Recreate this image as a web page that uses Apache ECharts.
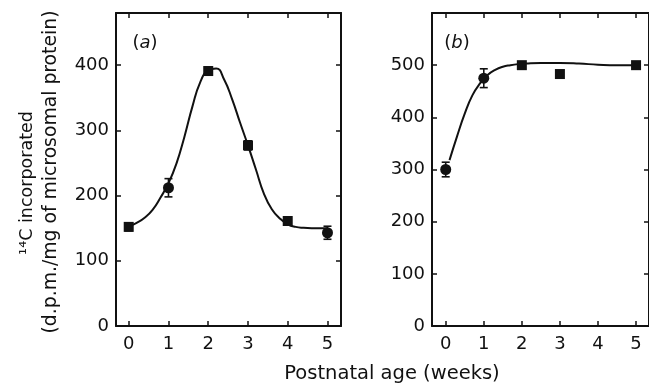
<!DOCTYPE html>
<html>
<head>
<meta charset="utf-8">
<script src="https://cdn.jsdelivr.net/npm/echarts@6/dist/echarts.min.js"></script>
<style>
  html, body {margin: 0; padding: 0; background: #fff;}
  #chart {width: 649px; height: 383px;}
</style>
</head>
<body>
<div id="chart"></div>
<script>
// tick labels
const weekTicks = [0, 1, 2, 3, 4, 5]
const yTicksA = [0, 100, 200, 300, 400]
const yTicksB = [0, 100, 200, 300, 400, 500]

// panel (a) measured points
const weeksA = [0, 1, 2, 3, 4, 5]
const valuesA = [152, 212, 391, 277, 161, 143]
const errA = [6, 14, 6, 7, 5, 10]
const shapesA = ['rect', 'circle', 'rect', 'rect', 'rect', 'circle']

// panel (a) fitted curve
const curveXA = [0.05, 0.2, 0.4, 0.6, 0.8, 1.0, 1.2, 1.4, 1.6, 1.8, 2.0, 2.2, 2.4, 2.6, 2.8, 3.0, 3.2, 3.4, 3.6, 3.8, 4.0, 4.2, 4.4, 4.6, 4.8, 5.0]
const curveYA = [154, 158, 166, 178, 197, 219, 249, 290, 336, 374, 392, 395, 378, 348, 312, 277, 240, 203, 179, 165, 156, 152, 150.5, 150, 150, 150]

// panel (b) measured points
const weeksB = [0, 1, 2, 3, 5]
const valuesB = [300, 475, 500, 483, 500]
const errB = [14, 18, 6, 5, 5]
const shapesB = ['circle', 'circle', 'rect', 'rect', 'rect']

// panel (b) fitted curve
const curveXB = [0.1, 0.3, 0.5, 0.7, 0.9, 1.1, 1.3, 1.5, 1.7, 1.9, 2.1, 2.5, 3.0, 3.5, 4.0, 4.5, 5.0]
const curveYB = [318, 364, 407, 442, 465, 481, 491, 497, 500, 502, 503, 504, 504, 503, 501, 500, 500]

const font = 'DejaVu Sans'
const black = '#111'

const zip = (xs, ys) => xs.map((x, i) => [x, ys[i]])

const xAxes = (grid, min, max) => ([
    {
        gridIndex: grid, type: 'value', min: min, max: max, position: 'bottom',
        splitLine: {show: false},
        axisLine: {onZero: false, lineStyle: {color: black, width: 2}},
        axisTick: {inside: true, length: 5, customValues: weekTicks, lineStyle: {width: 1.5}},
        axisLabel: {customValues: weekTicks, fontSize: 18, fontFamily: font, color: black, margin: 9}
    },
    {
        gridIndex: grid, type: 'value', min: min, max: max, position: 'top',
        splitLine: {show: false},
        axisLine: {onZero: false, lineStyle: {color: black, width: 2}},
        axisTick: {inside: true, length: 5, customValues: weekTicks, lineStyle: {width: 1.5}},
        axisLabel: {show: false}
    }
])

const yAxes = (grid, max, ticks) => ([
    {
        gridIndex: grid, type: 'value', min: 0, max: max, position: 'left',
        splitLine: {show: false},
        axisLine: {show: true, onZero: false, lineStyle: {color: black, width: 2}},
        axisTick: {show: true, inside: true, length: 5, customValues: ticks, lineStyle: {width: 1.5}},
        axisLabel: {customValues: ticks, fontSize: 18, fontFamily: font, color: black, margin: 7}
    },
    {
        gridIndex: grid, type: 'value', min: 0, max: max, position: 'right',
        splitLine: {show: false},
        axisLine: {show: true, onZero: false, lineStyle: {color: black, width: 2}},
        axisTick: {show: true, inside: true, length: 5, customValues: ticks, lineStyle: {width: 1.5}},
        axisLabel: {show: false}
    }
])

const errorBars = (xs, ys, es) => xs.map((x, i) => [x, ys[i], es[i]])

const renderError = (params, api) => {
    const x = api.value(0)
    const y = api.value(1)
    const e = api.value(2)
    const top = api.coord([x, y + e])
    const bot = api.coord([x, y - e])
    const w = 4
    const style = {stroke: black, lineWidth: 1.6}
    return {
        type: 'group',
        children: [
            {type: 'line', shape: {x1: top[0], y1: top[1], x2: bot[0], y2: bot[1]}, style: style},
            {type: 'line', shape: {x1: top[0] - w, y1: top[1], x2: top[0] + w, y2: top[1]}, style: style},
            {type: 'line', shape: {x1: bot[0] - w, y1: bot[1], x2: bot[0] + w, y2: bot[1]}, style: style}
        ]
    }
}

const points = (xs, ys, shapes) => xs.map((x, i) => ({
    value: [x, ys[i]],
    symbol: shapes[i],
    symbolSize: shapes[i] === 'rect' ? 10 : 11
}))

const myChart = echarts.init(document.getElementById('chart'))
myChart.setOption({
    animation: false,
    grid: [
        {left: 116, top: 13, width: 225, height: 313},
        {left: 432, top: 13, width: 227, height: 313}
    ],
    xAxis: [...xAxes(0, -0.32, 5.34), ...xAxes(1, -0.36, 5.34)],
    yAxis: [...yAxes(0, 480, yTicksA), ...yAxes(1, 600, yTicksB)],
    series: [
        {
            type: 'line', xAxisIndex: 0, yAxisIndex: 0, data: zip(curveXA, curveYA),
            smooth: 0.5, showSymbol: false, lineStyle: {color: black, width: 2}
        },
        {
            type: 'custom', xAxisIndex: 0, yAxisIndex: 0, renderItem: renderError,
            data: errorBars(weeksA, valuesA, errA), z: 3
        },
        {
            type: 'scatter', xAxisIndex: 0, yAxisIndex: 0, data: points(weeksA, valuesA, shapesA),
            itemStyle: {color: black, opacity: 1}, z: 4
        },
        {
            type: 'line', xAxisIndex: 2, yAxisIndex: 2, data: zip(curveXB, curveYB),
            smooth: 0.5, showSymbol: false, lineStyle: {color: black, width: 2}
        },
        {
            type: 'custom', xAxisIndex: 2, yAxisIndex: 2, renderItem: renderError,
            data: errorBars(weeksB, valuesB, errB), z: 3
        },
        {
            type: 'scatter', xAxisIndex: 2, yAxisIndex: 2, data: points(weeksB, valuesB, shapesB),
            itemStyle: {color: black, opacity: 1}, z: 4
        }
    ],
    graphic: [
        {
            type: 'text', x: 145, y: 43,
            style: {
                text: '({i|a})', fontSize: 18, fontFamily: font, fill: black,
                align: 'center', verticalAlign: 'middle',
                rich: {i: {fontStyle: 'italic', fontSize: 18, fontFamily: font}}
            }
        },
        {
            type: 'text', x: 457, y: 43,
            style: {
                text: '({i|b})', fontSize: 18, fontFamily: font, fill: black,
                align: 'center', verticalAlign: 'middle',
                rich: {i: {fontStyle: 'italic', fontSize: 18, fontFamily: font}}
            }
        },
        {
            type: 'text', x: 27, y: 183, rotation: Math.PI / 2,
            style: {
                text: '¹⁴C incorporated', fontSize: 17.5, fontFamily: font, fill: black,
                align: 'center', verticalAlign: 'middle'
            }
        },
        {
            type: 'text', x: 51, y: 172, rotation: Math.PI / 2,
            style: {
                text: '(d.p.m./mg of microsomal protein)', fontSize: 18.8, fontFamily: font, fill: black,
                align: 'center', verticalAlign: 'middle'
            }
        },
        {
            type: 'text', x: 392, y: 374,
            style: {
                text: 'Postnatal age (weeks)', fontSize: 19.5, fontFamily: font, fill: black,
                align: 'center', verticalAlign: 'middle'
            }
        }
    ]
})
</script>
</body>
</html>
